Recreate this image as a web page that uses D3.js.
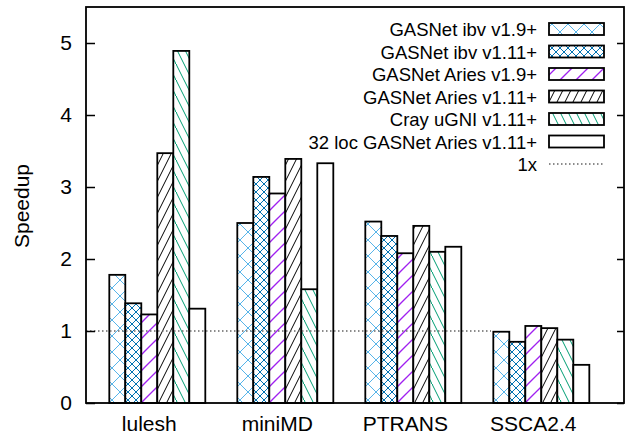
<!DOCTYPE html>
<html>
<head>
<meta charset="utf-8">
<script src="https://cdn.jsdelivr.net/npm/d3@7"></script>
<style>
  body { margin: 0; background: #fff; }
  text { font-family: "Liberation Sans", Arial, Helvetica, sans-serif; fill: #000; }
</style>
</head>
<body>
<div id="vis"></div>
<script>
const categories = ["lulesh", "miniMD", "PTRANS", "SSCA2.4"];
const seriesNames = [
  "GASNet ibv v1.9+",
  "GASNet ibv v1.11+",
  "GASNet Aries v1.9+",
  "GASNet Aries v1.11+",
  "Cray uGNI v1.11+",
  "32 loc GASNet Aries v1.11+"
];
const ibv19 = [1.78, 2.50, 2.52, 0.99];
const ibv111 = [1.385, 3.14, 2.32, 0.85];
const aries19 = [1.23, 2.91, 2.08, 1.07];
const aries111 = [3.47, 3.39, 2.46, 1.04];
const ugni111 = [4.89, 1.58, 2.10, 0.88];
const loc32 = [1.31, 3.33, 2.17, 0.53];
const yTicks = [0, 1, 2, 3, 4, 5];
const baseline = 1;

const seriesValues = [ibv19, ibv111, aries19, aries111, ugni111, loc32];

const width = 634;
const height = 434;
const margin = { top: 7, right: 10, bottom: 31, left: 86 };

const svg = d3
  .select("#vis")
  .append("svg")
  .attr("width", width)
  .attr("height", height);

////////// patterns //////////

const defs = svg.append("defs");

function makePattern(id, color, paths, sw) {
  const p = defs
    .append("pattern")
    .attr("id", id)
    .attr("patternUnits", "userSpaceOnUse")
    .attr("width", 16)
    .attr("height", 16);
  p.append("rect").attr("width", 16).attr("height", 16).attr("fill", "#fff");
  paths.forEach(function (d) {
    p.append("path")
      .attr("d", d)
      .attr("stroke", color)
      .attr("stroke-width", sw || 1)
      .attr("fill", "none");
  });
  return "url(#" + id + ")";
}

const fills = [
  makePattern("p1", "#56B4E9", ["M0,0L16,16", "M0,16L16,0", "M-1,1L1,-1", "M15,17L17,15"]),
  makePattern("p2", "#0072B2", [
    "M0,0L16,16", "M0,16L16,0",
    "M0,8L8,0", "M8,16L16,8", "M0,8L8,16", "M8,0L16,8"
  ]),
  makePattern("p3", "#a020f0", ["M0,16L16,0", "M-1,1L1,-1", "M15,17L17,15"], 1.3),
  makePattern("p4", "#000", ["M0,16L8,0", "M8,16L16,0", "M-0.5,1L0.5,-1", "M15.5,17L16.5,15"]),
  makePattern("p5", "#009E73", ["M0,0L8,16", "M8,0L16,16", "M-0.5,-1L0.5,1", "M15.5,15L16.5,17"]),
  "#fff"
];

////////// scales //////////

const x = d3
  .scaleLinear()
  .domain([-0.557, 3.646])
  .range([margin.left, width - margin.right]);

const y = d3
  .scaleLinear()
  .domain([0, 5.5])
  .range([height - margin.bottom, margin.top]);

const barW = x(1 / 8) - x(0);

////////// bars //////////

const bars = [];
seriesValues.forEach(function (vals, j) {
  vals.forEach(function (v, i) {
    bars.push({ cat: i, series: j, value: v });
  });
});

svg
  .append("g")
  .selectAll("rect")
  .data(bars)
  .enter()
  .append("rect")
  .attr("x", function (d) {
    return x(d.cat) + (d.series - 3) * barW;
  })
  .attr("y", function (d) {
    return y(d.value);
  })
  .attr("width", barW)
  .attr("height", function (d) {
    return y(0) - y(d.value);
  })
  .attr("fill", function (d) {
    return fills[d.series];
  })
  .attr("stroke", "#000")
  .attr("stroke-width", 1.8);

// 1x reference line
svg
  .append("line")
  .attr("x1", x.range()[0])
  .attr("x2", x(2.607))
  .attr("y1", y(baseline))
  .attr("y2", y(baseline))
  .attr("stroke", "#666")
  .attr("stroke-width", 1.3)
  .attr("stroke-dasharray", "1.5,2.5");

////////// axes //////////

svg
  .append("g")
  .attr("transform", "translate(" + margin.left + ",0)")
  .call(
    d3.axisLeft(y)
      .tickValues(yTicks)
      .tickSize(-9)
      .tickPadding(14)
      .tickFormat(d3.format("d"))
  )
  .call(function (g) {
    g.select(".domain").remove();
    g.selectAll("line").attr("stroke-width", 1.5);
    g.selectAll("text").style("font-size", "21px").attr("font-family", null);
  });

svg
  .append("g")
  .attr("transform", "translate(" + (width - margin.right) + ",0)")
  .call(d3.axisRight(y).tickValues(yTicks).tickSize(-7).tickFormat(""))
  .call(function (g) {
    g.select(".domain").remove();
    g.selectAll("line").attr("stroke-width", 1.5);
  });

// frame
svg
  .append("rect")
  .attr("x", margin.left)
  .attr("y", margin.top)
  .attr("width", width - margin.left - margin.right)
  .attr("height", height - margin.top - margin.bottom)
  .attr("fill", "none")
  .attr("stroke", "#000")
  .attr("stroke-width", 1.8);

svg
  .append("g")
  .selectAll("text")
  .data(categories)
  .enter()
  .append("text")
  .attr("x", function (d, i) {
    return x(i) - barW / 2;
  })
  .attr("y", 431)
  .attr("text-anchor", "middle")
  .style("font-size", "21px")
  .text(function (d) {
    return d;
  });

svg
  .append("text")
  .attr("transform", "translate(29,206) rotate(-90)")
  .attr("text-anchor", "middle")
  .style("font-size", "21px")
  .text("Speedup");

////////// legend //////////

const legend = svg.append("g").attr("class", "legend");
const rowY = function (k) {
  return 29 + k * 22.5;
};

seriesNames.forEach(function (name, k) {
  legend
    .append("text")
    .attr("x", 537)
    .attr("y", rowY(k) + 7)
    .attr("text-anchor", "end")
    .style("font-size", "18.5px")
    .text(name);
  legend
    .append("rect")
    .attr("x", 549)
    .attr("y", rowY(k) - 6)
    .attr("width", 55)
    .attr("height", 12)
    .attr("fill", fills[k])
    .attr("stroke", "#000")
    .attr("stroke-width", 1.8);
});

legend
  .append("text")
  .attr("x", 537)
  .attr("y", rowY(6) + 7)
  .attr("text-anchor", "end")
  .style("font-size", "18.5px")
  .text("1x");
legend
  .append("line")
  .attr("x1", 549)
  .attr("x2", 604)
  .attr("y1", rowY(6))
  .attr("y2", rowY(6))
  .attr("stroke", "#666")
  .attr("stroke-width", 1.3)
  .attr("stroke-dasharray", "1.5,2.5");
</script>
</body>
</html>
